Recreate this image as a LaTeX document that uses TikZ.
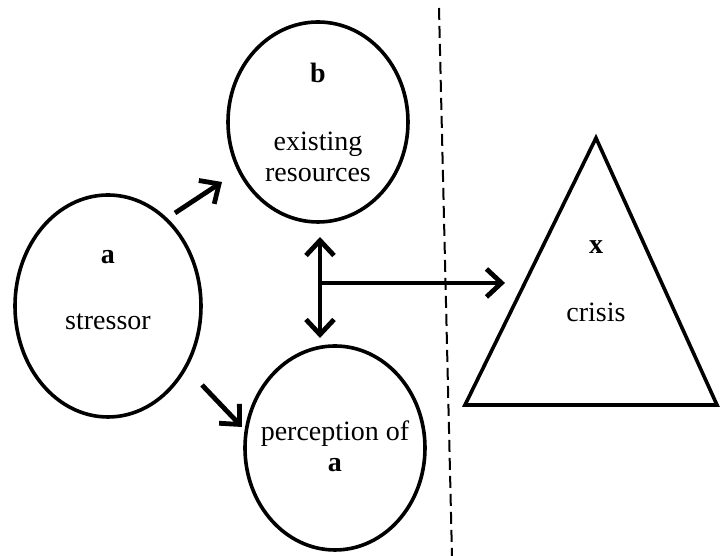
\documentclass[tikz,border=0pt]{standalone}
\usepackage{fontspec}
\setmainfont{Liberation Serif}
\usetikzlibrary{calc,arrows.meta,positioning,shapes.geometric}
\tikzset{
  bubble/.style={draw=black, line width=1.8pt, ellipse, inner sep=0pt},
  lbl/.style={font=\fontsize{14}{15.5}\selectfont, align=center, inner sep=0pt},
  arr/.style={-{Straight Barb[length=7.5pt,width=14pt]}, line width=2.4pt},
  darr/.style={{Straight Barb[length=7.5pt,width=14pt]}-{Straight Barb[length=7.5pt,width=14pt]}, line width=2.4pt},
  divider/.style={line width=1pt, dash pattern=on 6pt off 3pt}
}

\begin{document}
\begin{tikzpicture}[x=0.5pt,y=0.5pt]
  \useasboundingbox (0,0) rectangle (720,556);

  % the three circles
  \node[bubble, minimum width=93pt, minimum height=111pt] (a) at (108,250) {};
  \node[bubble, minimum width=90pt, minimum height=100pt] (b) at (318,434) {};
  \node[bubble, minimum width=90pt, minimum height=102pt] (p) at (335,108) {};

  \node[lbl] (atag) at ($(a)+(0,49)$) {\textbf{a}};
  \node[lbl] (atxt) at ($(a)+(0,-16)$) {stressor};
  \node[lbl] (btag) at ($(b)+(0,49)$) {\textbf{b}};
  \node[lbl] (btxt) at ($(b)+(0,-35)$) {existing\\resources};
  \node[lbl] (ptxt) at ($(p)+(0,2)$) {perception of\\\textbf{a}};

  % dividing line
  \coordinate (divtop) at (439,548);
  \coordinate (divbot) at (452,0);
  \draw[divider] (divtop) -- (divbot);

  % crisis triangle
  \coordinate (xtop) at (596,418);
  \coordinate (xleft) at (465,151);
  \coordinate (xright) at (717,151);
  \draw[line width=1.8pt] (xtop) -- (xleft) -- (xright) -- cycle;
  \node[lbl] (x) at (596,309) {\textbf{x}};
  \node[lbl] (xtxt) at ($(x)+(0,-65)$) {crisis};

  % arrows
  \draw[arr] ($(a)+(67,93)$) -- ($(b)+(-96,-60)$);
  \draw[arr] ($(a)+(94,-79)$) -- ($(p)+(-93,21)$);
  \draw[darr] ($(b)+(2,-115)$) -- coordinate[pos=0.455] (hub) ($(p)+(-15,110)$);
  \draw[arr] (hub) -- ($(hub -| x)+(-91,0)$);
\end{tikzpicture}
\end{document}
